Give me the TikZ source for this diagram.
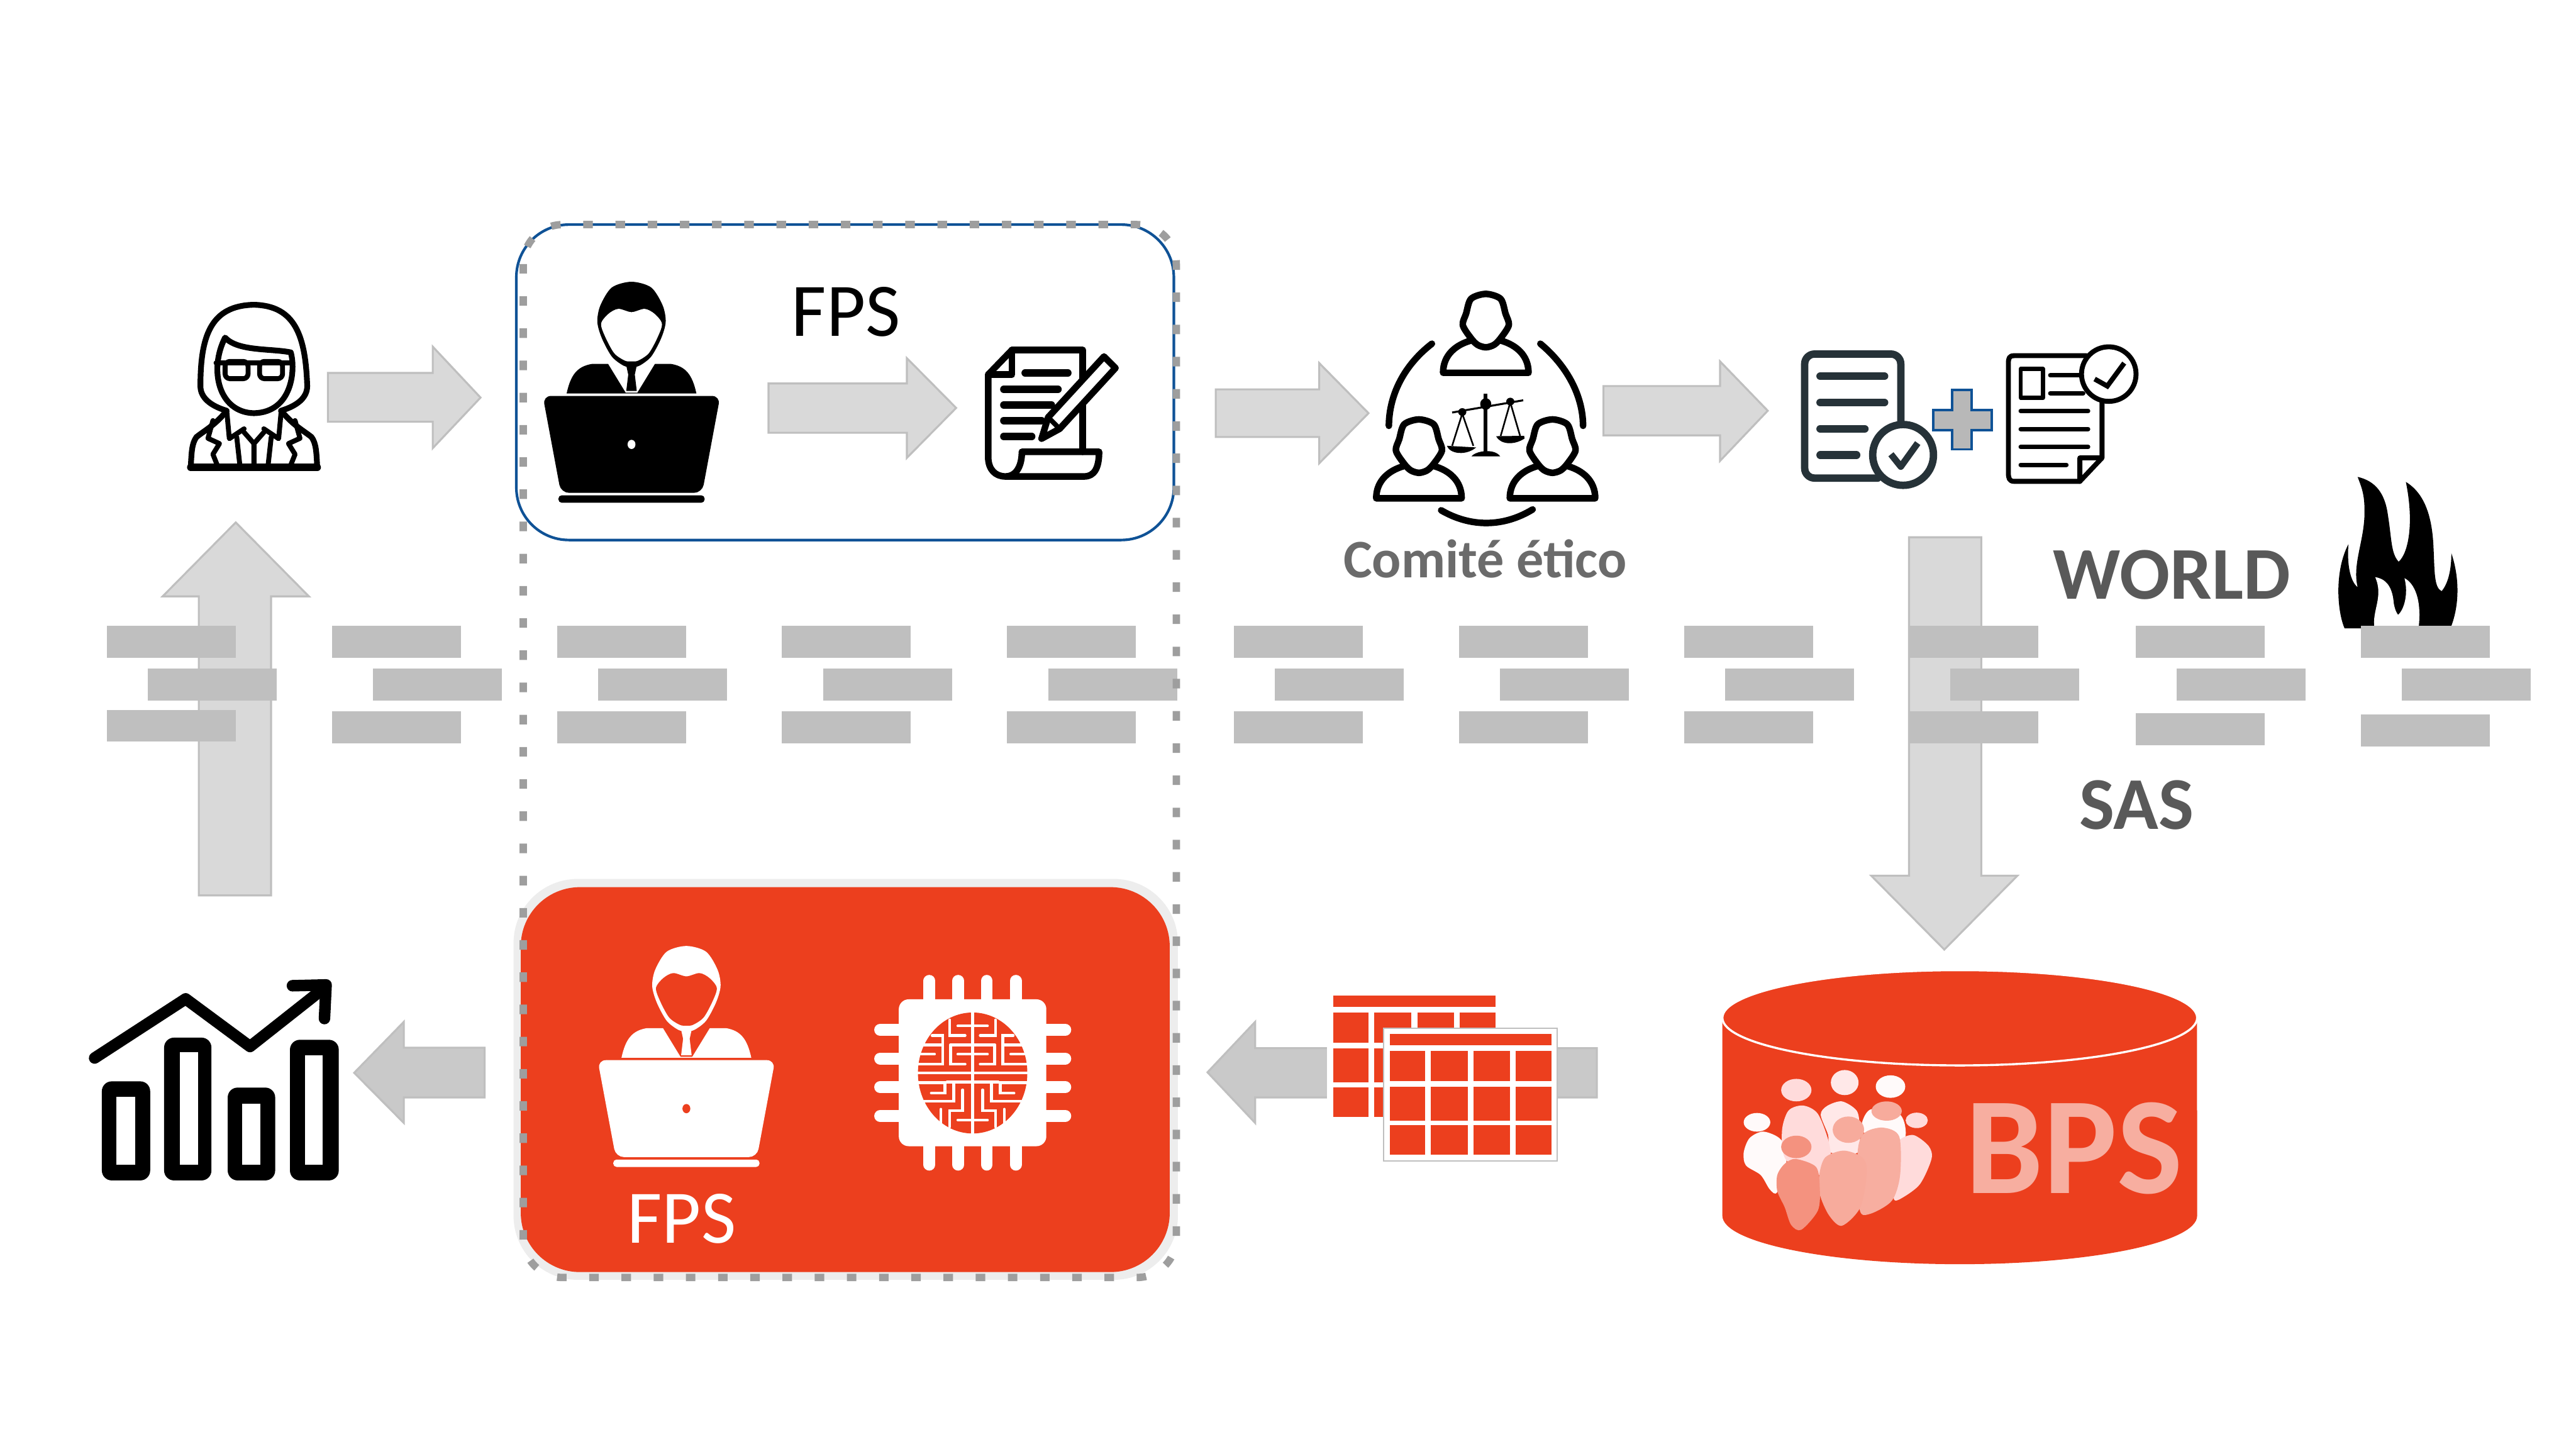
\documentclass[tikz,border=0pt]{standalone}
\usepackage{fontspec}
\setmainfont{Carlito}
\usepackage{xcolor}
\usepackage{tikz}
\usetikzlibrary{arrows.meta,positioning,calc}

\definecolor{fpsred}{HTML}{EC3F1E}
\definecolor{boxblue}{HTML}{0F5296}
\definecolor{slate}{HTML}{263238}
\tikzset{
  barfill/.style={fill=black!25},
  blockarrow/.style={fill=black!15, draw=black!25, line width=0.12mm, line join=miter},
  blockdark/.style={fill=black!21, draw=black!25, line width=0.12mm, line join=miter},
  iconline/.style={line width=0.4mm, line cap=round, line join=round},
  maze/.style={white, line width=0.17mm, line cap=round},
  pin/.style={white, line width=0.72mm, line cap=round},
  graylabel/.style={text=black!65, font=\bfseries\fontsize{12.9}{16}\selectfont},
  pics/laptopguy/.style 2 args={code={
      \fill[#1, rounded corners=0.5mm] (-54,0) -- (54,0) -- (43,59) -- (-43,59) -- cycle;
      \fill[#1, rounded corners=0.2mm] (-44.5,60.5) rectangle (44.5,65);
      \fill[#2] (0,29.5) ellipse (2.4 and 2.8);
      \fill[#1] (-39.5,-1.5) .. controls (-37,-13) and (-33,-18) .. (-24,-19.5) -- (24,-19.5) .. controls (33,-18) and (37,-13) .. (39.5,-1.5) -- cycle;
      \fill[#2] (-14.5,-20) -- (-3.5,-2) -- (3.5,-2) -- (14.5,-20) -- cycle;
      \fill[#1] (-3.2,-18.5) -- (3.2,-18.5) -- (2,-13) -- (3.2,-3) -- (-3.2,-3) -- (-2,-13) -- cycle;
      \fill[#1] plot[smooth cycle] coordinates {(0,-69.5) (12,-66) (19,-55) (20.8,-45) (18,-35) (12,-24) (5,-18.5) (0,-17.5) (-5,-18.5) (-12,-24) (-18,-35) (-20.8,-45) (-19,-55) (-12,-66)};
      \fill[#2] plot[smooth cycle] coordinates {(0,-51) (8,-53) (14,-50) (18.5,-44) (16,-36) (10.5,-26) (4,-21.5) (0,-21) (-4,-21.5) (-10.5,-26) (-16,-36) (-18.5,-44) (-14,-50) (-8,-53)};
  }},
  pics/member/.style={code={
      \draw[iconline] plot[smooth cycle] coordinates {(0,2) (9,5) (12,14) (14,21) (9,29) (5,33) (0,34.5) (-5,33) (-9,29) (-14,21) (-12,14) (-9,5)};
      \draw[iconline] (-9.5,30.5) .. controls (-18,33) and (-26,39) .. (-26,50) -- (26,50) .. controls (26,39) and (18,33) .. (9.5,30.5);
  }},
  pics/redtable/.style={code={
      \fill[white] (0,0) rectangle (105.7,80.6);
      \fill[fpsred] (3.8,3.2) rectangle (102.3,10.2);
      \foreach \xa/\xb in {3.8/25.2, 28.7/51.2, 54.9/77.1, 80.5/102.3}
        \foreach \ya/\yb in {13.5/32, 35.5/56, 59/77}
          \fill[fpsred] (\xa,\ya) rectangle (\xb,\yb);
  }},
}

\begin{document}
\begin{tikzpicture}[x=0.1mm, y=-0.1mm]
    \useasboundingbox (0,0) rectangle (1568,882);
    \fill[white] (0,0) rectangle (1568,882);

    % Big arrows, closing the loop.
    \draw[blockarrow] (121,545) -- (121,363) -- (99,363) -- (143.5,318) -- (188,363) -- (165,363) -- (165,545) -- cycle;
    \draw[blockarrow] (1162,327) -- (1206,327) -- (1206,533) -- (1228,533) -- (1183.5,578) -- (1139,533) -- (1162,533) -- cycle;

    % Flame, behind the grey bars.
    \begin{scope}[shift={(1381.6,279.3)}, x=0.01189mm, y=-0.0122mm]
        \fill (383,845) .. controls (345,760) and (330,560) .. (403,425) .. controls (395,520) and (410,610) .. (450,640)
        .. controls (420,520) and (490,400) .. (485,250) .. controls (485,170) and (465,130) .. (450,90)
        .. controls (540,110) and (590,170) .. (605,280) .. controls (625,400) and (620,470) .. (660,513)
        .. controls (710,470) and (740,320) .. (697,115) .. controls (790,170) and (830,280) .. (838,430)
        .. controls (845,560) and (840,640) .. (880,660) .. controls (915,620) and (930,550) .. (930,470)
        .. controls (975,600) and (970,740) .. (925,845) -- cycle;
        \fill[white] (540,590) .. controls (610,600) and (630,660) .. (635,720) .. controls (640,750) and (650,770) .. (657,778)
        .. controls (690,750) and (710,670) .. (690,595) .. controls (740,620) and (780,700) .. (762,845)
        -- (537,845) .. controls (520,760) and (585,690) .. (540,590) -- cycle;
    \end{scope}

    % Grey bars across the page.
    \foreach \xo/\yb in {65/432, 202/433, 339/433, 476/433, 613/433, 751/433, 888/433, 1025/433, 1162/433, 1300/434, 1437/435} {
        \fill[barfill] (\xo,381) rectangle ++(78.5,19.5);
        \fill[barfill] (\xo+25,407) rectangle ++(78.5,19.5);
        \fill[barfill] (\xo,\yb) rectangle ++(78.5,19.5);
    }

    % Woman with glasses.
    \draw[iconline, line width=0.35mm] (138,250) .. controls (128,247) and (122,242) .. (122,235) .. controls (122,205) and (128,186) .. (154.5,185.5) .. controls (180,186) and (186,205) .. (187,235) .. controls (187,242) and (181,247) .. (171,250);
    \draw[iconline, line width=0.35mm] (137,205.5) .. controls (145,214) and (165,212) .. (177,214.5) .. controls (180,225) and (178,251) .. (154.5,251.5) .. controls (133,251) and (127,225) .. (137,205.5) -- cycle;
    \draw[iconline, line width=0.3mm, rounded corners=0.3mm] (137,220) rectangle (151,230.5) (158,220) rectangle (172,230.5);
    \draw[iconline, line width=0.3mm] (131.5,221) -- (177.5,221);
    \begin{scope}[shift={(154.6,0)}]
        \foreach \s in {1,-1} {
            \begin{scope}[xscale=\s]
                \draw[iconline, line width=0.35mm] (-17,250.5) .. controls (-24,259) and (-30,262) .. (-35,266) .. controls (-38,270) and (-38,276) .. (-38.5,284.5);
                \draw[iconline, line width=0.45mm] (-38.5,284.5) -- (0,284.5);
                \draw[iconline, line width=0.3mm] (-16.5,251) -- (-15,267) -- (-6,261);
                \draw[iconline, line width=0.3mm] (-7,262) -- (0,270) -- (0,284);
                \draw[iconline, line width=0.3mm] (-10.5,266) -- (-8.5,284);
                \draw[iconline, line width=0.3mm] (-25,256) -- (-28,266.8) -- (-21,270) -- (-25,276.5) -- (-22,284);
            \end{scope}
        }
    \end{scope}

    % Box around the authoring step.
    \draw[boxblue, fill=white, line width=0.16mm, rounded corners=3.2mm] (314.3,136.7) rectangle (714.5,328.7);
    \pic at (384.4,241) {laptopguy={black}{white}};
    \node[font=\fontsize{13.1}{16}\selectfont] (fpsTop) at (515,190) {FPS};
    \draw[blockarrow] (199.6,227) -- (263.4,227) -- (263.4,211) -- (292.5,242) -- (263.4,272.8) -- (263.4,256.7) -- (199.6,256.7) -- cycle;
    \draw[blockarrow] (467.8,233.4) -- (552,233.4) -- (552,218) -- (582,248.3) -- (552,278.7) -- (552,263.4) -- (467.8,263.4) -- cycle;

    % Scroll with pen.
    \draw[iconline] (616,213) -- (659,213) -- (659,275);
    \draw[iconline] (616,213) -- (601.5,228) -- (601.5,278) .. controls (601.5,286) and (606,290) .. (612,290) -- (660,290) .. controls (666,290) and (669,285) .. (669,275) -- (622,275) .. controls (622,283) and (619,290) .. (612,290);
    \draw[iconline] (616,213) -- (616,228) -- (601.5,228);
    \draw[iconline, line width=0.45mm] (624,227) -- (650,227) (611,237) -- (644,237) (611,246.5) -- (640,246.5) (611,256) -- (634,256) (611,265.7) -- (628,265.7);
    \draw[iconline, fill=white, line width=0.4mm] (672,217) -- (679,224) -- (645,261) -- (634,267) -- (638,254) -- cycle;
    \draw[iconline, line width=0.3mm] (638,254) -- (645,261);

    \draw[blockarrow] (740,237) -- (803,237) -- (803,221) -- (833,251.5) -- (803,282) -- (803,266) -- (740,266) -- cycle;

    % Ethics committee.
    \pic at (904.4,176.9) {member};
    \pic at (863.7,253.3) {member};
    \pic at (945,253.3) {member};
    \draw[iconline] (871.6,209.2) .. controls (855,222) and (845.5,240) .. (845.4,259.2);
    \draw[iconline] (937.6,209.2) .. controls (953,222) and (963.5,240) .. (963.6,259.2);
    \draw[iconline] (877.2,310.6) .. controls (895,321) and (915,321) .. (932.9,310.1);
    \begin{scope}[shift={(823.2,170.5)}, x=0.01125mm, y=-0.0098mm]
        \draw[line width=0.23mm] (722,705) -- (722,1070);
        \fill (645,1095) .. controls (670,1060) and (770,1045) .. (800,1095) -- cycle;
        \draw[line width=0.12mm] (540,823) -- (925,747);
        \fill (595,820) ellipse (22 and 24) (855,755) ellipse (22 and 24) (722,770) ellipse (30 and 36);
        \draw[line width=0.1mm] (540,1030) -- (595,830) -- (655,1030) (803,968) -- (855,760) -- (908,968);
        \fill (512,1030) .. controls (530,1085) and (620,1090) .. (670,1040) -- cycle;
        \fill (778,970) .. controls (800,1020) and (870,1030) .. (932,985) -- (930,968) -- cycle;
    \end{scope}
    \node[text=black!58, font=\bfseries\fontsize{9.4}{12}\selectfont] (comite) at (904,340) {Comité ético};

    \draw[blockarrow] (976,235) -- (1047,235) -- (1047,220) -- (1076,250) -- (1047,280.5) -- (1047,265) -- (976,265) -- cycle;

    % Checked document, plus sign, certificate.
    \draw[slate, iconline, line width=0.45mm, rounded corners=0.6mm] (1143,291) -- (1098.5,291) -- (1098.5,215.5) -- (1157,215.5) -- (1157,258);
    \draw[slate, iconline, line width=0.48mm] (1108,229) -- (1147,229) (1108,245) -- (1147,245) (1108,261) -- (1135,261) (1108,277) -- (1130,277);
    \draw[slate, fill=white, line width=0.45mm] (1158.4,276.9) circle (18.5);
    \draw[slate, iconline, line width=0.4mm, line cap=butt] (1151,276.5) -- (1157,284) -- (1167.3,269.7);
    \draw[boxblue, fill=black!28, line width=0.15mm] (1188.4,237.4) -- (1200.2,237.4) -- (1200.2,249.5) -- (1212.3,249.5) -- (1212.3,261.7) -- (1200.2,261.7) -- (1200.2,273.5) -- (1188.4,273.5) -- (1188.4,261.7) -- (1176.7,261.7) -- (1176.7,249.5) -- (1188.4,249.5) -- cycle;
    \draw[iconline, line width=0.3mm] (1266,293) -- (1226,293) .. controls (1223,293) and (1222.5,291) .. (1222.5,288) -- (1222.5,221) .. controls (1222.5,218) and (1223,216.5) .. (1226,216.5) -- (1270,216.5);
    \draw[iconline, line width=0.3mm] (1279.5,240) -- (1279.5,278.7) -- (1266,293) -- (1266,278.7) -- (1279.5,278.7);
    \draw[iconline, line width=0.25mm] (1230,224.5) rectangle (1243.5,242.2);
    \draw[iconline, line width=0.27mm] (1248,228.5) -- (1268,228.5) (1248,239.4) -- (1268,239.4) (1230,250.2) -- (1271,250.2) (1230,261.2) -- (1271,261.2) (1230,272) -- (1271,272) (1230,282.9) -- (1257.8,282.9);
    \draw[fill=white, line width=0.3mm] (1283.6,227.7) circle (16.6);
    \draw[line width=0.3mm] (1275,230.7) -- (1282.7,235) -- (1293,221);

    % Red box with the analyst and the chip.
    \draw[fill=black!7, draw=none, rounded corners=3.9mm] (312.6,535) rectangle (717,779);
    \fill[fpsred, rounded corners=3.6mm] (317,540) rectangle (712,774.3);
    \pic at (417.8,645.3) {laptopguy={white}{fpsred}};
    \node[white, font=\fontsize{13.1}{16}\selectfont] (fpsBottom) at (415,742) {FPS};
    \begin{scope}[shift={(523.3,588)}, x=0.0098mm, y=-0.0098mm]
        \foreach \p in {433,612,790,970}
            \draw[pin] (\p,92) -- (\p,1235);
        \foreach \p in {397,575,753,932}
            \draw[pin] (127,\p) -- (1278,\p);
        \fill[white, rounded corners=0.6mm] (243,207) rectangle (1160,1120);
        \fill[fpsred] (702,665) ellipse (340 and 376);
        \foreach \s in {1,-1} {
            \begin{scope}[shift={(702,0)}, xscale=\s]
                \draw[maze] (-142,335) -- (-142,432) -- (-47,432);
                \draw[maze] (-92,372) -- (0,372);
                \draw[maze] (-252,432) -- (-187,432) -- (-187,610) -- (-340,610);
                \draw[maze] (-312,490) -- (-187,490);
                \draw[maze] (-320,548) -- (-237,548);
                \draw[maze] (-137,490) -- (0,490);
                \draw[maze] (-137,490) -- (-137,610) -- (-47,610);
                \draw[maze] (-92,548) -- (0,548);
                \draw[maze] (-340,665) -- (0,665);
                \draw[maze] (-340,725) -- (-172,725) -- (-172,790) -- (-257,790);
                \draw[maze] (-160,722) -- (0,722);
                \draw[maze] (-117,722) -- (-117,840) -- (-300,840);
                \draw[maze] (-62,770) -- (-62,900) -- (-142,900) -- (-142,1000);
                \draw[maze] (-92,958) -- (0,958);
                \draw[maze] (-197,890) -- (-197,975);
                \draw[maze] (0,290) -- (0,1040);
            \end{scope}
        }
    \end{scope}

    % Dashed frame over both boxes.
    \draw[black!38, line width=0.45mm, dash pattern=on 0.58mm off 1.38mm, rounded corners=2.4mm] (318.5,136.7) rectangle (716,777.6);

    % Chart with rising arrow.
    \foreach \xa/\xb/\ya/\ia/\ib/\ic in {62/91.4/658.2/71/82.4/667.8, 99.9/128.7/631.6/109.4/120.6/640.5, 138.6/167.5/662/147.2/158.5/671.7, 176.5/206.2/632.9/185.5/196.3/642.5} {
        \fill[rounded corners=0.6mm] (\xa,\ya) rectangle (\xb,718.5);
        \fill[white] (\ia,\ic) rectangle (\ib,708.9);
    }
    \draw[iconline, line width=0.7mm] (57.6,644) -- (113,608) -- (152.2,637) -- (194,604);
    \draw[iconline, line width=0.7mm] (178,600) -- (198.5,599.5) -- (197.5,620);
    \draw[blockdark] (295,637.7) -- (245.8,637.7) -- (245.8,622) -- (215.6,653) -- (245.8,683.5) -- (245.8,668) -- (295,668) -- cycle;

    % Arrow behind the red tables.
    \draw[blockdark] (972,638) -- (764,638) -- (764,622) -- (735,652.7) -- (764,683.5) -- (764,668) -- (972,668) -- cycle;
    \pic at (807.9,602.7) {redtable};
    \pic at (842.1,626) {redtable};
    \draw[black!25, line width=0.08mm] (842.1,626) rectangle (947.8,706.6);

    % Database cylinder.
    \fill[fpsred] (1048.4,620) -- (1048.4,740) arc[start angle=180, end angle=360, x radius=144.5, y radius=-29.5] -- (1337.3,620) -- cycle;
    \draw[white, fill=fpsred, line width=0.13mm] (1192.9,619.5) ellipse (144.5 and 29);
    \begin{scope}[shift={(1029,646.7)}, x=0.01125mm, y=-0.0098mm]
        \fill[red!2!white] plot[smooth cycle] coordinates {(395,430) (490,480) (520,610) (470,805) (430,790) (380,700) (300,640) (288,560) (320,470)};
        \fill[red!2!white] plot[smooth cycle] coordinates {(980,290) (930,370) (945,440) (1140,480) (1165,420) (1130,320)};
        \fill[red!9!white] plot[smooth cycle] coordinates {(820,242) (900,300) (915,400) (905,560) (760,560) (745,450) (705,325) (740,270)};
        \fill[red!14!white] plot[smooth cycle] coordinates {(610,268) (690,320) (750,500) (760,650) (700,700) (520,610) (495,430) (530,300)};
        \fill[red!14!white] (573,172) ellipse (82 and 70) (1225,360) ellipse (60 and 48);
        \fill[red!9!white] (835,125) ellipse (75 and 78);
        \fill[red!2!white] (1083,150) ellipse (80 and 70) (360,372) ellipse (72 and 58);
        \fill[fpsred!44!white] (1062,302) ellipse (82 and 60) (855,418) ellipse (85 and 82);
        \fill[fpsred!57!white] (573,525) ellipse (82 and 70);
        \fill[red!14!white] plot[smooth cycle] coordinates {(1210,452) (1290,520) (1305,600) (1240,760) (1130,852) (1100,840) (1130,700) (1120,540) (1140,475)};
        \fill[fpsred!42!white] plot[smooth cycle] coordinates {(1040,405) (1130,460) (1135,700) (1090,860) (970,942) (915,910) (905,560) (940,440)};
        \fill[fpsred!44!white] plot[smooth cycle] coordinates {(830,548) (930,590) (955,680) (920,900) (820,1015) (750,950) (700,820) (697,700) (730,590)};
        \fill[fpsred!57!white] plot[smooth cycle] coordinates {(570,600) (680,650) (700,780) (690,920) (600,1040) (545,1010) (510,900) (470,800) (470,700) (510,630)};
    \end{scope}
    \node[text=fpsred!42!white, font=\bfseries\fontsize{24}{27}\selectfont] (bps) at (1262.5,699) {BPS};

    % Side labels.
    \node[graylabel] (world) at (1322,350) {WORLD};
    \node[graylabel] (sas) at (1300.5,490) {SAS};
\end{tikzpicture}
\end{document}
